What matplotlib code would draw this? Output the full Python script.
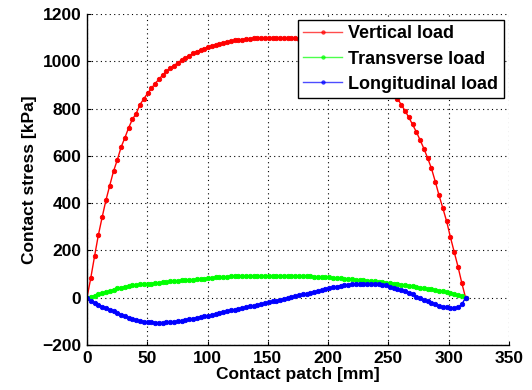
import numpy as np
import matplotlib
matplotlib.use('Agg')
import matplotlib.pyplot as plt

plt.rcParams['font.family'] = ['Liberation Sans', 'DejaVu Sans']
plt.rcParams['font.weight'] = 'bold'

# positions along the contact patch (mm)
patch_mm = [
    0.0, 3.1, 6.3, 9.4, 12.6, 15.7, 18.8, 22.0, 25.1, 28.3,
    31.4, 34.5, 37.7, 40.8, 44.0, 47.1, 50.2, 53.4, 56.5, 59.7,
    62.8, 65.9, 69.1, 72.2, 75.4, 78.5, 81.6, 84.8, 87.9, 91.1,
    94.2, 97.3, 100.5, 103.6, 106.8, 109.9, 113.0, 116.2, 119.3, 122.5,
    125.6, 128.7, 131.9, 135.0, 138.2, 141.3, 144.4, 147.6, 150.7, 153.9,
    157.0, 160.1, 163.3, 166.4, 169.6, 172.7, 175.8, 179.0, 182.1, 185.3,
    188.4, 191.5, 194.7, 197.8, 201.0, 204.1, 207.2, 210.4, 213.5, 216.7,
    219.8, 222.9, 226.1, 229.2, 232.4, 235.5, 238.6, 241.8, 244.9, 248.1,
    251.2, 254.3, 257.5, 260.6, 263.8, 266.9, 270.0, 273.2, 276.3, 279.5,
    282.6, 285.7, 288.9, 292.0, 295.2, 298.3, 301.4, 304.6, 307.7, 310.9,
    314.0,
]

# contact stress (kPa)
vertical_load = [
    0, 82, 176, 264, 341, 412, 473, 535, 582, 637,
    676, 718, 755, 779, 817, 841, 864, 885, 906, 924,
    942, 957, 970, 982, 994, 1005, 1015, 1024, 1033, 1041,
    1048, 1054, 1060, 1065, 1070, 1074, 1078, 1082, 1085, 1088,
    1090, 1092, 1094, 1096, 1097, 1098, 1099, 1100, 1100, 1100,
    1100, 1100, 1099, 1099, 1098, 1097, 1096, 1095, 1094, 1092,
    1090, 1087, 1084, 1080, 1076, 1071, 1065, 1058, 1051, 1043,
    1034, 1024, 1013, 1001, 989, 975, 960, 943, 925, 905,
    883, 860, 842, 817, 791, 763, 733, 701, 667, 630,
    590, 547, 491, 433, 378, 323, 257, 193, 132, 62,
    0,
]

transverse_load = [
    0, 5, 9, 14, 19, 24, 29, 34, 39, 43,
    46, 49, 52, 54, 56, 57, 58, 60, 62, 64,
    65, 67, 69, 70, 72, 73, 75, 76, 77, 78,
    80, 81, 83, 84, 86, 87, 88, 89, 90, 90,
    91, 91, 91, 92, 92, 92, 92, 92, 92, 92,
    92, 92, 92, 92, 92, 91, 91, 91, 90, 90,
    89, 89, 88, 87, 86, 85, 84, 83, 81, 80,
    78, 77, 75, 74, 72, 71, 69, 67, 66, 64,
    62, 60, 58, 55, 53, 50, 48, 46, 43, 41,
    38, 36, 33, 30, 27, 23, 19, 15, 11, 6,
    0,
]

longitudinal_load = [
    0, -14, -22, -30, -38, -44, -51, -58, -65, -72,
    -79, -85, -90, -94, -98, -101, -103, -104, -105, -105,
    -105, -104, -103, -101, -99, -97, -94, -91, -88, -85,
    -82, -79, -76, -73, -69, -64, -60, -57, -53, -50,
    -47, -44, -41, -37, -34, -31, -27, -24, -20, -16,
    -12, -8, -5, -1, 2, 6, 10, 14, 17, 21,
    25, 28, 32, 36, 40, 44, 47, 50, 53, 55,
    57, 58, 59, 59, 59, 59, 58, 57, 55, 52,
    47, 41, 37, 33, 27, 21, 14, 5, -2, -9,
    -16, -21, -28, -36, -39, -41, -43, -43, -41, -28,
    0,
]

fig = plt.figure(figsize=(5.32, 3.9), dpi=100)
ax = fig.add_axes([0.1635, 0.1154, 0.7932, 0.8487])

line_kw = dict(lw=1.0, marker='o', ms=3.2, mew=0.6)
ax.plot(patch_mm, vertical_load, color='#ff0000', label='Vertical load', **line_kw)
ax.plot(patch_mm, transverse_load, color='#00ff00', label='Transverse load', **line_kw)
ax.plot(patch_mm, longitudinal_load, color='#0000ff', label='Longitudinal load', **line_kw)

ax.set_xlim(0, 350)
ax.set_ylim(-200, 1200)
ax.set_xticks(np.arange(0, 351, 50))
ax.set_yticks(np.arange(-200, 1201, 200))

ax.grid(True, color='black', linestyle=(0, (1, 3)), linewidth=0.8)
ax.spines['top'].set_visible(False)
ax.spines['right'].set_visible(False)
ax.spines['left'].set_linewidth(1.0)
ax.spines['bottom'].set_linewidth(1.0)
ax.tick_params(direction='in', length=3, width=0.8, labelsize=12.5, pad=4)
for lbl in ax.get_xticklabels() + ax.get_yticklabels():
    lbl.set_fontweight('bold')

ax.set_xlabel('Contact patch [mm]', fontsize=12.5, fontweight='bold', labelpad=1)
ax.set_ylabel('Contact stress [kPa]', fontsize=12.5, fontweight='bold', labelpad=4)

leg = ax.legend(loc='upper right', bbox_to_anchor=(0.988, 0.982), borderaxespad=0,
                prop={'family': 'Liberation Sans', 'weight': 'bold', 'size': 13},
                fancybox=False, framealpha=1, edgecolor='black',
                handlelength=2.15, handletextpad=0.35, borderpad=0.3,
                labelspacing=0.45)
leg.get_frame().set_linewidth(1.0)
for t in leg.get_texts():
    t.set_fontweight('bold')
for h in leg.legend_handles:
    h.set_marker('.')
    h.set_markersize(5)
    h.set_alpha(0.7)

fig.savefig('out.png', dpi=100)
